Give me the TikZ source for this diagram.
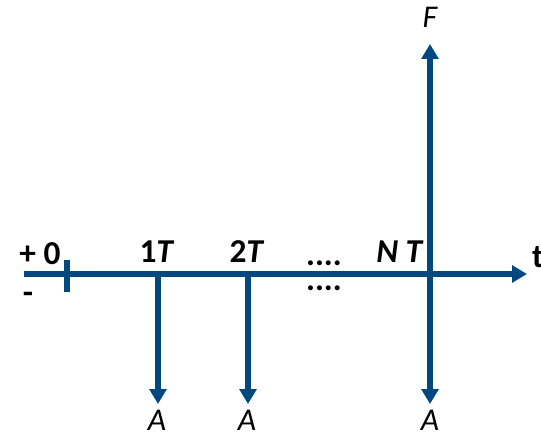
\documentclass[tikz,border=0pt]{standalone}
\usepackage{fontspec}
\setmainfont{Carlito}
\usetikzlibrary{arrows.meta}
\definecolor{cAxis}{RGB}{0,72,128}

\begin{document}
\begin{tikzpicture}[
  x=0.02cm, y=-0.02cm,
  axis/.style={line width=2.9pt, draw=cAxis},
  flow/.style={line width=2.9pt, draw=cAxis, -{Triangle[width=9.5pt,length=8.5pt]}},
  lbl/.style={font=\fontsize{19}{21}\selectfont\bfseries, inner sep=0pt},
  amt/.style={font=\fontsize{18}{20}\selectfont\itshape, inner sep=0pt}
]
\useasboundingbox (0,0) rectangle (541,433);

%% Time axis
\coordinate (t0) at (24,274);
\coordinate (tEnd) at (527,274);
\draw[flow] (t0) -- (tEnd);
\node[lbl] (tlab) at (538,257) {t};

%% Origin tick and signs
\coordinate (tickTop) at (67,260);
\coordinate (tickBot) at (67,292);
\draw[axis] (tickTop) -- (tickBot);
\node[lbl] (zero) at (40,254) {+ 0};
\node[lbl] (minus) at (28,298) {-};

%% Period labels
\node[lbl] (p1) at (157,252) {1\textit{T}};
\node[lbl] (p2) at (247,252) {2\textit{T}};
\node[lbl] (pN) at (400,252) {\textit{N T}};
\node[lbl, anchor=base] (dotsUp) at (324,265) {....};
\node[lbl, anchor=base] (dotsDn) at (324,290) {....};

%% Cash flows
\coordinate (c1) at (158,274);
\coordinate (c2) at (248,274);
\coordinate (cN) at (430,274);
\coordinate (e1) at (158,404);
\coordinate (e2) at (248,404);
\coordinate (eN) at (430,404);
\coordinate (eF) at (430,44);
\draw[flow] (c1) -- (e1);
\draw[flow] (c2) -- (e2);
\draw[flow] (cN) -- (eN);
\draw[flow] (cN) -- (eF);

%% Amounts
\node[amt] (a1) at (157,420) {A};
\node[amt] (a2) at (247,420) {A};
\node[amt] (aN) at (430,420) {A};
\node[amt] (fv) at (430,17) {F};

\end{tikzpicture}
\end{document}
